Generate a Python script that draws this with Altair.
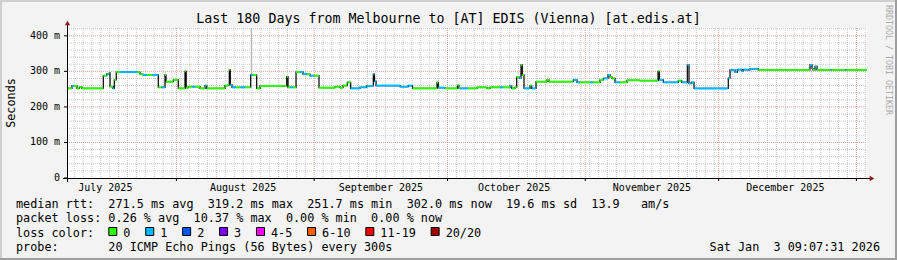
import altair as alt
import pandas as pd

# ---------------- data ----------------
START = "2025-07-07 09:07:31"
END = "2026-01-03 09:07:31"

# step points of the median RTT line: days since START, median rtt (ms), lost pings (loss colour index)
days_since_start = [
    0, 1.12, 1.58, 2.25, 2.81, 3.38, 8.17, 8.93, 9.52, 9.68, 10.35, 10.64, 11.09, 11.93,
    15.75, 16.43, 17.10, 18.00, 19.13, 20.54, 21.31, 22.05, 22.28, 23.92, 25.04, 26.55,
    26.82, 27.29, 28.13, 28.80, 29.93, 31.05, 31.43, 35.55, 36.23, 36.52, 36.74, 37.13,
    38.03, 38.93, 40.05, 41.33, 41.85, 42.68, 43.43, 49.43, 49.73, 50.18, 50.85, 51.53,
    52.43, 53.10, 54.00, 54.68, 55.58, 56.70, 60.30, 61.43, 62.10, 63.07, 63.83, 65.93,
    67.43, 68.92, 69.19, 69.53, 74.93, 76.79, 77.74, 83.25, 83.54, 85.05, 87.86, 88.20,
    88.43, 90.23, 92.25, 94.50, 95.18, 97.43, 98.10, 99.68, 100.06, 100.80, 101.18, 101.77,
    102.15, 102.44, 102.83, 104.18, 104.56, 105.53, 108.00, 108.45, 113.92, 114.75, 115.43,
    117.68, 118.35, 119.93, 120.67, 121.73, 122.18, 122.63, 123.30, 124.43, 126.00, 128.93,
    132.98, 133.27, 134.17, 137.54, 138.31, 139.57, 139.95, 140.56, 141.08, 148.79, 149.18,
    150.30, 150.82, 151.88, 152.17, 153.29, 153.68, 155.54, 167.18, 167.63, 167.85, 168.30,
    168.75, 171.68, 172.01, 175.05, 175.39,
]
median_ms = [
    252, 259, 259, 252, 256, 252, 288, 292, 296, 257, 252, 276, 298, 298,
    298, 292, 290, 290, 290, 255, 255, 290, 271, 276, 252, 300,
    254, 257, 257, 257, 252, 260, 252, 260, 262, 304, 262, 255,
    255, 255, 255, 290, 290, 252, 259, 285, 255, 255, 255, 298,
    298, 292, 292, 288, 288, 254, 257, 254, 260, 269, 252, 255,
    259, 292, 272, 260, 257, 260, 252, 269, 254, 252, 261, 253,
    252, 252, 255, 252, 255, 255, 255, 259, 252, 255, 284, 281,
    318, 290, 252, 260, 252, 271, 276, 271, 276, 269, 269,
    269, 269, 276, 280, 290, 284, 280, 269, 269, 275, 274,
    300, 276, 269, 274, 269, 318, 266, 269, 252, 281, 304,
    298, 305, 301, 305, 304, 307, 304, 318, 308, 304, 314,
    304, 304, 304, 304, 304,
]
loss_index = [
    0, 1, 0, 0, 0, 0, 0, 1, 0, 0, 1, 0, 0, 1,
    0, 0, 1, 0, 1, 0, 1, 0, 0, 0, 0, 0,
    0, 0, 1, 0, 0, 1, 0, 0, 0, 0, 1, 1,
    0, 1, 0, 1, 0, 0, 0, 0, 0, 1, 0, 0,
    1, 1, 0, 1, 0, 0, 0, 0, 0, 0, 1, 1,
    1, 1, 1, 1, 1, 1, 0, 0, 1, 0, 0, 0,
    1, 0, 0, 0, 0, 1, 0, 1, 0, 0, 0, 1,
    0, 0, 1, 0, 1, 0, 0, 0, 1, 1, 0,
    1, 0, 0, 1, 1, 0, 0, 1, 0, 0, 0,
    0, 1, 1, 0, 1, 1, 1, 1, 1, 1, 1,
    1, 1, 1, 1, 1, 1, 0, 1, 1, 0, 1,
    0, 1, 0, 1, 0,
]

# one sample with a very wide ping spread (grey smoke)
smoke_day = [41.47]
smoke_low = [290]
smoke_high = [422]

loss_labels = ["0", "1", "2", "3", "4-5", "6-10", "11-19", "20/20"]
loss_colors = ["#26ff00", "#00b8ff", "#0059ff", "#7e00ff", "#ff00ff", "#ff5e00", "#ff0000", "#a10000"]

month_starts = ["2025-08-01", "2025-09-01", "2025-10-01", "2025-11-01", "2025-12-01", "2026-01-01"]
month_label_dates = ["2025-07-16", "2025-08-16", "2025-09-16", "2025-10-16", "2025-11-16", "2025-12-16"]
month_labels = ["July 2025", "August 2025", "September 2025", "October 2025", "November 2025", "December 2025"]

y_major = [100, 200, 300, 400]
y_minor = [v for v in range(20, 421, 20) if v % 100 != 0]
y_ticks = [0, 100, 200, 300, 400]
y_tick_labels = ["0  ", "100 m", "200 m", "300 m", "400 m"]
Y_MAX = 422

rtt_values = [271.5, 319.2, 251.7, 302.0]
rtt_names = ["avg", "max", "min", "now"]
rtt_sd = 19.6
am_s = 13.9
loss_values = [0.26, 10.37, 0.00, 0.00]

title_text = "Last 180 Days from Melbourne to [AT] EDIS (Vienna) [at.edis.at]"
probe_text = "20 ICMP Echo Pings (56 Bytes) every 300s"
stamp_text = "Sat Jan  3 09:07:31 2026"
credit_text = "RRDTOOL / TOBI OETIKER"

# ---------------- build tables ----------------
DAY = 86400000
NB = "\u00a0"


def nb(s):
    return s.replace(" ", NB)


def ms(ts):
    return pd.Timestamp(ts).value // 10**6


start_ms, end_ms = ms(START), ms(END)
t = [start_ms + d * DAY for d in days_since_start]
seg = pd.DataFrame({
    "t": t,
    "t_end": t[1:] + [end_ms],
    "v": median_ms,
    "c": [loss_colors[i] for i in loss_index],
})
line_df = pd.concat([seg, pd.DataFrame({"t": [end_ms], "t_end": [end_ms], "v": [median_ms[-1]],
                                        "c": [seg["c"].iloc[-1]]})], ignore_index=True)

minor_days = pd.date_range("2025-07-09", "2026-01-03", freq="2D")
month_set = set(pd.to_datetime(month_starts))
minor_x = pd.DataFrame({"t": [d.value // 10**6 for d in minor_days if d not in month_set and ms(d) > start_ms]})
major_x = pd.DataFrame({"t": [ms(d) for d in month_starts]})
label_df = pd.DataFrame({"t": [ms(d) for d in month_label_dates], "label": month_labels})
minor_y = pd.DataFrame({"v": y_minor})
major_y = pd.DataFrame({"v": y_major})
ylab_df = pd.DataFrame({"v": y_ticks, "label": [nb(s) for s in y_tick_labels]})
smoke_df = pd.DataFrame({"t": [start_ms + d * DAY for d in smoke_day], "lo": smoke_low, "hi": smoke_high})
one = pd.DataFrame({"k": [0]})

xs = alt.Scale(domain=[start_ms, end_ms], nice=False, zero=False)
ys = alt.Scale(domain=[0, Y_MAX], nice=False)
W, H = 800, 150
FONT = "DejaVu Sans Mono"


def X(f="t"):
    return alt.X(f"{f}:Q", scale=xs, axis=None)


def Y(f="v"):
    return alt.Y(f"{f}:Q", scale=ys, axis=None)


layers = []

# grid
layers.append(alt.Chart(minor_x).mark_rule(color="#c8c8c8", strokeWidth=1, strokeDash=[1, 1]).encode(
    x=X(), y=alt.value(0), y2=alt.value(H)))
layers.append(alt.Chart(minor_y).mark_rule(color="#c8c8c8", strokeWidth=1, strokeDash=[1, 1]).encode(
    y=Y(), x=alt.value(0), x2=alt.value(W)))
layers.append(alt.Chart(major_x).mark_rule(color="#e89a9a", strokeWidth=1, strokeDash=[1, 1]).encode(
    x=X(), y=alt.value(0), y2=alt.value(H)))
layers.append(alt.Chart(major_y).mark_rule(color="#e89a9a", strokeWidth=1, strokeDash=[1, 1]).encode(
    y=Y(), x=alt.value(0), x2=alt.value(W)))

# smoke
layers.append(alt.Chart(smoke_df).mark_rule(color="#a8a8a8", strokeWidth=1).encode(
    x=X(), y=Y("lo"), y2="hi:Q"))

# median line: black connections, loss-coloured horizontal segments
layers.append(alt.Chart(line_df).mark_line(interpolate="step-after", color="black", strokeWidth=1.2).encode(
    x=X(), y=Y()))
layers.append(alt.Chart(seg).mark_rule(strokeWidth=2).encode(
    x=X(), x2="t_end:Q", y=Y(), color=alt.Color("c:N", scale=None)))

# y labels and ticks
layers.append(alt.Chart(ylab_df).mark_text(font=FONT, fontSize=10, color="black", align="right",
                                           baseline="middle").encode(
    y=Y(), x=alt.value(-7), text="label:N"))
layers.append(alt.Chart(ylab_df).mark_rule(color="black", strokeWidth=1).encode(
    y=Y(), x=alt.value(-3), x2=alt.value(0)))

# axis lines, arrows, month ticks
layers.append(alt.Chart(one).mark_rule(color="black", strokeWidth=1).encode(
    x=alt.value(-4), x2=alt.value(W + 3), y=alt.value(H + 0.5)))
layers.append(alt.Chart(one).mark_rule(color="black", strokeWidth=1).encode(
    x=alt.value(0.5), y=alt.value(H + 4), y2=alt.value(-4)))
layers.append(alt.Chart(one).mark_point(shape="triangle-right", filled=True, color="#8b1a1a", size=28,
                                        opacity=1).encode(x=alt.value(W + 5), y=alt.value(H + 0.5)))
layers.append(alt.Chart(one).mark_point(shape="triangle-up", filled=True, color="#8b1a1a", size=28,
                                        opacity=1).encode(x=alt.value(0.5), y=alt.value(-5)))
layers.append(alt.Chart(major_x).mark_rule(color="black", strokeWidth=1).encode(
    x=X(), y=alt.value(H), y2=alt.value(H + 3)))

# month labels
layers.append(alt.Chart(label_df).mark_text(font=FONT, fontSize=10, color="black", baseline="middle").encode(
    x=X(), y=alt.value(H + 9.5), text="label:N"))

# titles and credits
layers.append(alt.Chart(one).mark_text(text=title_text, font=FONT, fontSize=13.3, color="black",
                                       align="center", baseline="middle").encode(
    x=alt.value(448.5 - 67), y=alt.value(18.5 - 28)))
layers.append(alt.Chart(one).mark_text(text="Seconds", font=FONT, fontSize=11.8, color="black",
                                       align="center", baseline="middle", angle=270).encode(
    x=alt.value(11 - 67), y=alt.value(103 - 28)))
layers.append(alt.Chart(one).mark_text(text=credit_text, font=FONT, fontSize=8.3, color="#ababab",
                                       align="center", baseline="middle", angle=90).encode(
    x=alt.value(887.5 - 67), y=alt.value(60 - 28)))

# legend rows
row1 = "median rtt:  " + "  ".join(f"{v:.1f} ms {n}" for v, n in zip(rtt_values, rtt_names)) \
       + f"  {rtt_sd:.1f} ms sd  {am_s:.1f}   am/s"
row2 = "packet loss: " + "  ".join(f"{v:.2f} % {n}" for v, n in zip(loss_values, rtt_names))
row4 = "probe:       " + probe_text
LX = 16 - 67
CW = 7.1
for txt, yy in [(row1, 204), (row2, 218.3), ("loss color:", 232.7), (row4, 246.5)]:
    layers.append(alt.Chart(one).mark_text(text=nb(txt), font=FONT, fontSize=11.8, color="black",
                                           align="left", baseline="middle").encode(
        x=alt.value(LX), y=alt.value(yy - 28)))
layers.append(alt.Chart(one).mark_text(text=nb(stamp_text), font=FONT, fontSize=11.8, color="black",
                                       align="right", baseline="middle").encode(
    x=alt.value(880 - 67), y=alt.value(246.5 - 28)))

col = 13.0
for lab, colr in zip(loss_labels, loss_colors):
    left = LX + col * CW
    layers.append(alt.Chart(one).mark_square(size=64, color=colr, filled=True, opacity=1,
                                             stroke="black", strokeWidth=1).encode(
        x=alt.value(left + 4.5), y=alt.value(231.5 - 28)))
    layers.append(alt.Chart(one).mark_text(text=lab, font=FONT, fontSize=11.8, color="black",
                                           align="left", baseline="middle").encode(
        x=alt.value(left + 15), y=alt.value(232.7 - 28)))
    col += len(lab) + 4.2

# bevel border
layers.append(alt.Chart(one).mark_rule(color="#cfcfcf", strokeWidth=2).encode(
    x=alt.value(-67), x2=alt.value(830), y=alt.value(-27)))
layers.append(alt.Chart(one).mark_rule(color="#cfcfcf", strokeWidth=2).encode(
    x=alt.value(-66), y=alt.value(-28), y2=alt.value(232)))
layers.append(alt.Chart(one).mark_rule(color="#9e9e9e", strokeWidth=2).encode(
    x=alt.value(829), y=alt.value(-28), y2=alt.value(232)))
layers.append(alt.Chart(one).mark_rule(color="#9e9e9e", strokeWidth=2).encode(
    x=alt.value(-67), x2=alt.value(830), y=alt.value(231)))

chart = alt.layer(*layers).properties(
    width=W, height=H,
    autosize=alt.AutoSizeParams(type="none"),
    padding={"left": 67, "top": 28, "right": 30, "bottom": 82},
    background="#f3f3f3",
).configure_view(stroke=None, fill="white")

chart.save("out.html", embed_options={"renderer": "svg", "actions": False})
